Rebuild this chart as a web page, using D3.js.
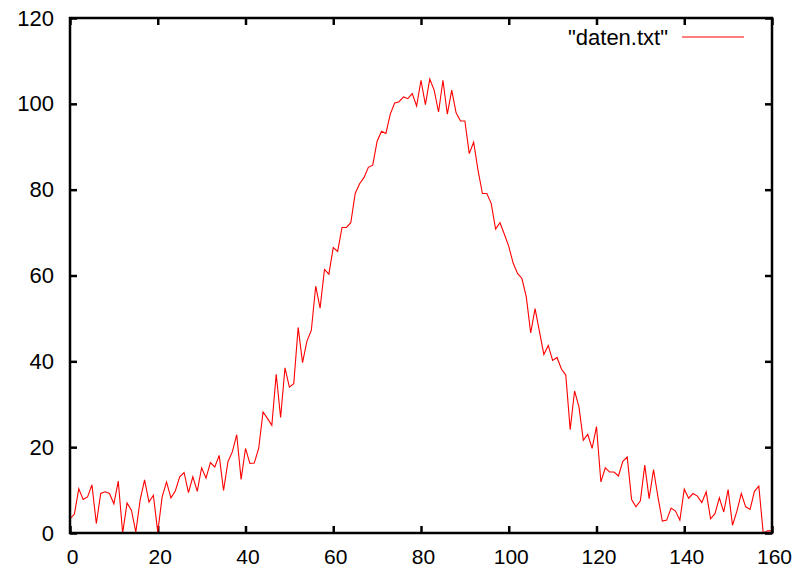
<!DOCTYPE html>
<html>
<head>
<meta charset="utf-8">
<script src="https://cdn.jsdelivr.net/npm/d3@7"></script>
<style>
  body { margin: 0; background: #fff; }
  text { font-family: "Liberation Sans", Arial, sans-serif; }
</style>
</head>
<body>
<div id="chart"></div>
<script>
// values of "daten.txt", one per x step starting at 0
const values = [
  3.3, 4.4, 10.3, 7.8, 8.4, 11.2, 2.2, 9.2, 9.6, 9.2,
  6.8, 12.1, 0, 7.0, 5.3, 0.2, 7.8, 12.4, 7.2, 8.8,
  0.2, 8.4, 11.9, 8.2, 9.8, 13.1, 14.1, 9.4, 13.1, 9.7,
  15.2, 12.8, 16.4, 15.4, 18.1, 9.9, 16.6, 18.9, 22.9, 12.5,
  19.7, 16.2, 16.3, 19.7, 28.2, 26.7, 25.1, 37.0, 26.9, 38.5,
  34.0, 34.8, 47.9, 39.7, 44.7, 47.2, 57.5, 52.4, 61.4, 60.3,
  66.5, 65.6, 71.2, 71.2, 72.3, 79.1, 81.4, 82.8, 85.2, 85.7,
  91.3, 93.6, 93.1, 97.6, 100.2, 100.5, 101.6, 101.2, 102.4, 99.5,
  105.5, 99.8, 105.8, 103.2, 98.1, 105.5, 97.6, 103.2, 97.9, 96.0,
  96.0, 88.4, 91.1, 84.5, 79.1, 79.1, 76.8, 70.8, 72.3, 69.6,
  66.8, 62.9, 60.5, 59.3, 55.0, 46.6, 52.3, 46.9, 41.6, 43.7,
  40.2, 40.9, 38.2, 36.8, 24.1, 33.1, 29.4, 21.6, 23.0, 19.7,
  24.8, 11.9, 15.2, 14.2, 14.2, 13.3, 16.7, 17.7, 7.8, 6.1,
  7.5, 15.8, 8.0, 14.8, 8.4, 2.8, 3.0, 5.8, 5.1, 3.0,
  10.2, 8.1, 9.2, 8.6, 7.1, 9.6, 3.3, 4.5, 8.2, 4.9,
  10.1, 1.8, 5.1, 9.2, 6.1, 5.5, 9.7, 10.9, 0, 0.5,
  0.5
];
const xTicks = [0, 20, 40, 60, 80, 100, 120, 140, 160];
const yTicks = [0, 20, 40, 60, 80, 100, 120];
const seriesName = '"daten.txt"';

// set the dimensions and margins of the graph
var margin = {top: 18, right: 27, bottom: 36, left: 70},
    width = 799 - margin.left - margin.right,
    height = 569 - margin.top - margin.bottom;

var svg = d3.select("#chart")
  .append("svg")
    .attr("width", 799)
    .attr("height", 569)
  .append("g")
    .attr("transform", "translate(" + margin.left + "," + margin.top + ")");

var x = d3.scaleLinear().domain([0, 160]).range([0, width]);
var y = d3.scaleLinear().domain([0, 120]).range([height, 0]);

function styleAxis(g, fontSize) {
  g.select(".domain").remove();
  g.selectAll(".tick line").attr("stroke", "#000").attr("stroke-width", 2.5);
  if (fontSize) {
    g.selectAll(".tick text").attr("fill", "#000").style("font-size", fontSize + "px");
  } else {
    g.selectAll(".tick text").remove();
  }
}

// bottom / left with labels, top / right mirrored, ticks pointing in
svg.append("g")
  .attr("transform", "translate(0," + height + ")")
  .call(d3.axisBottom(x).tickValues(xTicks).tickSizeInner(-7).tickSizeOuter(0).tickPadding(16))
  .call(g => styleAxis(g, 21))
  .selectAll(".tick text").attr("dx", "2");

svg.append("g")
  .call(d3.axisTop(x).tickValues(xTicks).tickSizeInner(-7).tickSizeOuter(0))
  .call(g => styleAxis(g, 0));

svg.append("g")
  .call(d3.axisLeft(y).tickValues(yTicks).tickSizeInner(-7).tickSizeOuter(0).tickPadding(16))
  .call(g => styleAxis(g, 22));

svg.append("g")
  .attr("transform", "translate(" + width + ",0)")
  .call(d3.axisRight(y).tickValues(yTicks).tickSizeInner(-7).tickSizeOuter(0))
  .call(g => styleAxis(g, 0));

svg.append("clipPath").attr("id", "plot-clip")
  .append("rect").attr("width", width).attr("height", height);

var line = d3.line()
  .x((d, i) => x(i))
  .y(d => y(d));

svg.append("path")
  .datum(values)
  .attr("clip-path", "url(#plot-clip)")
  .attr("fill", "none")
  .attr("stroke", "#ff0000")
  .attr("stroke-width", 1.1)
  .attr("d", line);

// border
svg.append("rect")
  .attr("width", width)
  .attr("height", height)
  .attr("fill", "none")
  .attr("stroke", "#000")
  .attr("stroke-width", 2.5);

// legend
var legend = svg.append("g").attr("transform", "translate(" + (width - 104) + ",19)");
legend.append("text")
  .attr("x", 0)
  .attr("y", 0)
  .attr("dy", "0.35em")
  .attr("text-anchor", "end")
  .style("font-size", "22px")
  .text(seriesName);
legend.append("line")
  .attr("x1", 14).attr("x2", 76)
  .attr("y1", 0).attr("y2", 0)
  .attr("stroke", "#ff0000")
  .attr("stroke-width", 1.1);
</script>
</body>
</html>
